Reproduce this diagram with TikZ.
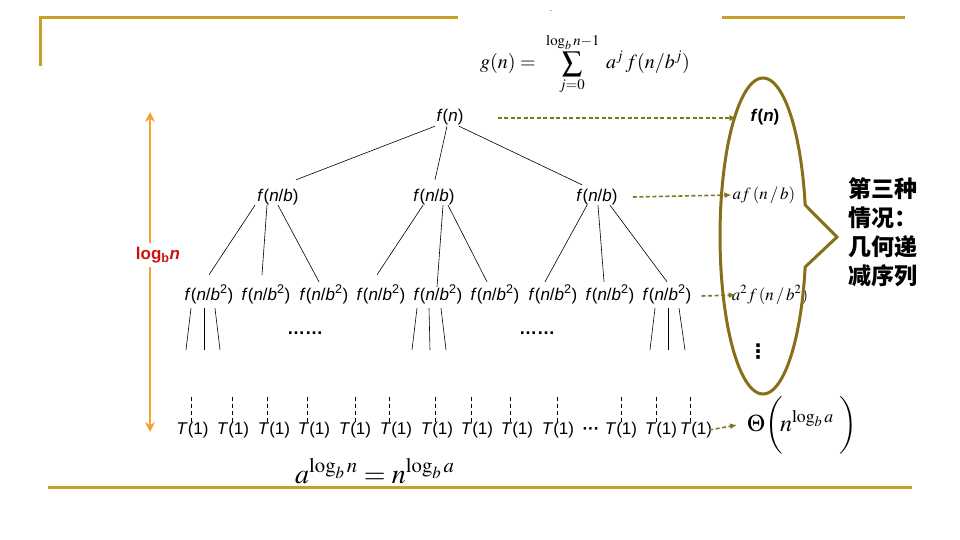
\documentclass[tikz,border=0pt]{standalone}
\usepackage{mathptmx}
\usepackage[no-math]{fontspec}
\setmainfont{Liberation Sans}
\newfontfamily\cjk{Noto Sans CJK SC}
\newfontfamily\djv{DejaVu Sans}
\usetikzlibrary{arrows.meta}
\definecolor{gold}{RGB}{200,160,40}
\definecolor{dasholive}{RGB}{128,120,30}
\definecolor{ellcol}{RGB}{135,110,25}
\definecolor{orng}{RGB}{240,165,50}
\definecolor{lblred}{RGB}{200,20,20}
\newcommand\myfn{\textit{f}(\textit{n})}
\newcommand\myfnb{\textit{f}(\textit{n}/\textit{b})}
\newcommand\myfnbb{\textit{f}(\textit{n}/\textit{b}\textsuperscript{2})}
\newcommand\myT{\textit{T}(1)}
\begin{document}
\begin{tikzpicture}[x=1pt,y=-1pt,
  lab/.style={font=\fontsize{17}{17}\selectfont, inner sep=0pt, text height=12pt, text depth=4pt},
  edge/.style={draw=black, line width=0.6pt},
  leafdash/.style={draw=black, line width=0.6pt, dash pattern=on 4pt off 3pt},
  dasharr/.style={draw=dasholive, line width=1.6pt, dash pattern=on 4pt off 2.5pt, -{Latex[length=7pt,width=6pt]}},
  orarr/.style={draw=orng, line width=2.5pt, -{Stealth[length=10pt,width=10pt]}},
  goldline/.style={draw=gold, line width=3pt},
  ellline/.style={draw=ellcol, line width=3pt, line join=miter},
  mathtxt/.style={inner sep=0pt}]
\useasboundingbox (0,0) rectangle (960,540);
% frame lines
\draw[goldline] (458,18) -- (40,18) -- (40,66);
\draw[goldline] (722,18) -- (905,18);
\draw[goldline] (48,487) -- (912,487);
\node[font=\fontsize{8}{8}\selectfont, inner sep=0pt] (dot) at (551,11) {.};
% top formula
\node[mathtxt, font=\fontsize{20}{20}\selectfont] (gform) at (585,64)
  {$\displaystyle g(n)=\;\sum_{j=0}^{\rule[-4pt]{0pt}{0pt}\log_b n-1}\; a^j\, f(n/b^j)$};
% tree
\node[lab] (r) at (450,118) {\myfn};
\node[lab] (b1) at (278,197) {\myfnb};
\node[lab] (b2) at (434,197) {\myfnb};
\node[lab] (b3) at (597,197) {\myfnb};
\foreach \i/\x in {1/209,2/266,3/324,4/381,5/438,6/495,7/553,8/610,9/667}
  \node[lab] (c\i) at (\x,296) {\myfnbb};
\draw[edge] ([xshift=-15pt]r.south) -- ([xshift=18pt,yshift=9pt]b1.north);
\draw[edge] ([xshift=-3pt]r.south) -- ([xshift=1pt,yshift=9pt]b2.north);
\draw[edge] ([xshift=9pt]r.south) -- ([xshift=-15pt,yshift=4pt]b3.north);
\draw[edge] ([xshift=-23pt]b1.south) -- ([yshift=13pt]c1.north);
\draw[edge] ([xshift=-11pt]b1.south) -- ([xshift=-4pt,yshift=13pt]c2.north);
\draw[edge] (b1.south) -- ([xshift=-5pt,yshift=6pt]c3.north);
\draw[edge] ([xshift=-11pt]b2.south) -- ([xshift=-4pt,yshift=13pt]c4.north);
\draw[edge] ([xshift=9pt]b2.south) -- ([xshift=-1pt,yshift=1pt]c5.north);
\draw[edge] ([xshift=14pt]b2.south) -- ([xshift=-8pt,yshift=6pt]c6.north);
\draw[edge] ([xshift=-10pt]b3.south) -- ([xshift=-8pt,yshift=6pt]c7.north);
\draw[edge] ([xshift=1pt]b3.south) -- ([xshift=-6pt,yshift=6pt]c8.north);
\draw[edge] ([xshift=13pt]b3.south) -- ([yshift=6pt]c9.north);
% third level stubs
\foreach \n/\s/\ex in {c1/-18/186, c1/-5/204, c1/6/220, c5/-21/412, c5/-9/430, c5/3/446, c9/-12/650, c9/1/668, c9/12/685}{
  \coordinate (e) at (\ex,350);
  \draw[edge] ([xshift=\s pt,yshift=-4pt]\n.south) -- (e);
}
\node[font=\bfseries\fontsize{18}{18}\selectfont, inner sep=0pt] (dots1) at (305,333) {……};
\node[font=\bfseries\fontsize{18}{18}\selectfont, inner sep=0pt] (dots2) at (537,333) {……};
% leaves
\foreach \i/\x/\dx in {1/192.5/191,2/233/232,3/274/267,4/314/307,5/355/355,6/396/389,7/437/435,8/477/471,9/517/510,10/558/557,11/621/621,12/661/656,13/696/690}{
  \node[lab] (T\i) at (\x,430) {\myT};
  \coordinate (t\i) at (\dx,397);
  \draw[leafdash] (t\i) -- (t\i |- T\i.north);
}
\node[font=\bfseries\fontsize{17}{17}\selectfont, inner sep=0pt] (tdots) at (591,431) {···};
% height arrow
\node[font=\bfseries\fontsize{17}{17}\selectfont, text=lblred, inner xsep=0pt, inner ysep=4pt] (lg) at (158,255) {log\textsubscript{b}\textit{n}};
\coordinate (atop) at (150,112);
\coordinate (abot) at (150,432);
\draw[orarr] (atop |- lg.north) -- (atop);
\draw[orarr] (abot |- lg.south) -- (abot);
% right column
\node[lab, font=\bfseries\fontsize{17}{17}\selectfont] (fn) at (765,118) {\myfn};
\node[mathtxt, font=\fontsize{17}{17}\selectfont] (afnb) at (764,195) {$af\,(n\,/\,b)$};
\node[mathtxt, font=\fontsize{17}{17}\selectfont] (a2f) at (770,295) {$a^2 f\,(n\,/\,b^2)$};
\node[inner sep=0pt, font=\djv\bfseries\fontsize{20}{20}\selectfont] (vd) at (758,352) {⋮};
\node[mathtxt, font=\fontsize{24}{24}\selectfont] (theta) at (802,425) {$\Theta\biggl(\!n^{\log_b a}\;\biggr)$};
\draw[dasharr] ([xshift=34pt]r.east) -- ([xshift=-14pt]fn.west);
\draw[dasharr] ([xshift=15pt]b3.east) -- ([xshift=-1pt]afnb.west);
\draw[dasharr] ([xshift=10pt]c9.east) -- ([xshift=4pt]a2f.west);
\draw[dasharr] ([xshift=-3pt]T13.east) -- ([xshift=-10pt]theta.west);
% ellipse with spike
\draw[ellline] plot[variable=\t, domain=11.3:348.7, samples=160, smooth] ({763+43*cos(\t)},{236-158*sin(\t)}) -- (837,237) -- cycle;
% chinese text
\node[align=left, inner sep=0pt, font=\cjk\bfseries\fontsize{23}{29}\selectfont] (cn) at (883,232) {第三种\\情况：\\几何递\\减序列};
% bottom formula
\node[mathtxt, anchor=base west, font=\fontsize{28}{28}\selectfont] (idf) at (295,483) {$a^{\log_b n}=n^{\log_b a}$};
\end{tikzpicture}
\end{document}
